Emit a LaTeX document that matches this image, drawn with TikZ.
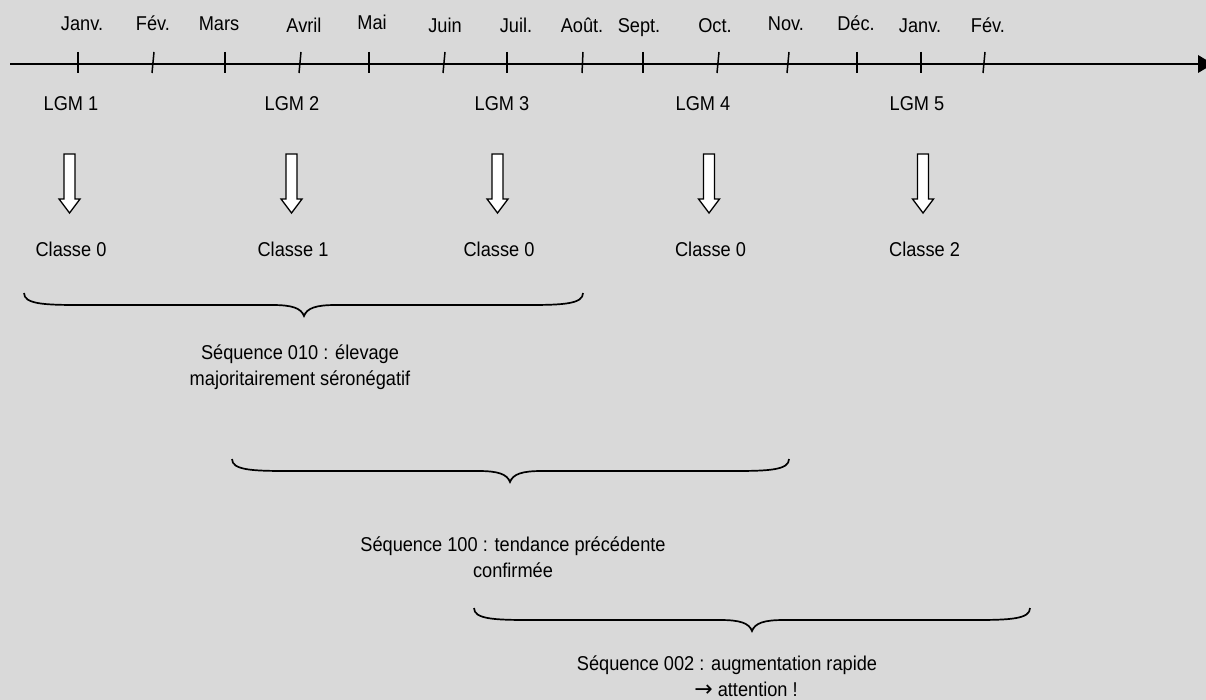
\documentclass[tikz,border=0pt]{standalone}
\usepackage{fontspec}
\setmainfont{Liberation Sans}[FakeStretch=0.91]
\newfontfamily\symfont{DejaVu Sans}
\definecolor{bggray}{HTML}{D9D9D9}
\newcommand\seqbrace[4]{%
  \draw[bracestyle] (#1,#4) .. controls (#1,#4+11) and (#1+20,#4+12) .. (#1+55,#4+12)
    -- (#2-32,#4+12) .. controls (#2-12,#4+12) and (#2-3,#4+15) .. (#2,#4+23)
    .. controls (#2+3,#4+15) and (#2+12,#4+12) .. (#2+32,#4+12)
    -- (#3-55,#4+12) .. controls (#3-20,#4+12) and (#3,#4+11) .. (#3,#4);}
\begin{document}
\begin{tikzpicture}[x=1pt,y=-1pt,
  lbl/.style={font=\fontsize{20}{26}\selectfont, inner sep=0pt, anchor=base},
  axisline/.style={line width=1.5pt},
  tickline/.style={line width=1.5pt},
  bracestyle/.style={line width=1.7pt},
  blockarrow/.style={draw=black, fill=white, line width=1.3pt, line join=miter}]
\fill[bggray] (0,0) rectangle (1206,700);
\useasboundingbox (0,0) rectangle (1206,700);
\clip (0,0) rectangle (1206,700);
% axis
\coordinate (axstart) at (10,64);
\coordinate (axend) at (1199,64);
\draw[axisline] (axstart) -- (axend);
\fill (1198,55) -- (1213,64) -- (1198,73) -- cycle;
% ticks: top x / bottom x
\foreach \tx/\bx [count=\i] in {78/78,154/152,225/225,301/299,369/369,445/443,507/507,583/582,643/643,719/717,789/787,857/857,921/921,985/983}{
  \coordinate (t\i top) at (\tx,52);
  \coordinate (t\i bot) at (\bx,73);
  \draw[tickline] (t\i top) -- (t\i bot);
}
% month labels
\foreach \m/\x/\y [count=\i] in {Janv./82/31,Fév./153/31,Mars/219/31,Avril/304/33,Mai/372/30,Juin/445/33,Juil./516/33,Août./582/33,Sept./639/33,Oct./715/33,Nov./786/31,Déc./856/31,Janv./920/33,Fév./988/33}{
  \node[lbl] (m\i) at (\x,\y) {\m};
}
% LGM labels, block arrows, classes
\foreach \x/\lx/\c [count=\i] in {69.5/71/0,291.5/292/1,497.5/502/0,709/703/0,923/917/2}{
  \node[lbl] (lgm\i) at (\lx,111) {LGM \i};
  \draw[blockarrow] (\x-5.5,154) -- (\x+5.5,154) -- (\x+5.5,199) -- (\x+10.5,199)
     -- (\x,213) -- (\x-10.5,199) -- (\x-5.5,199) -- cycle;
  \node[lbl] (cl\i) at (\x+1.5,257) {Classe \c};
}
% braces
\seqbrace{24}{304}{583}{293}
\seqbrace{232}{510}{789}{459}
\seqbrace{474}{752}{1030}{608}
% sequence texts
\node[lbl] (s1a) at (300,359) {Séquence 010 : élevage};
\node[lbl] (s1b) at (300,385) {majoritairement séronégatif};
\node[lbl] (s2a) at (513,551) {Séquence 100 : tendance précédente};
\node[lbl] (s2b) at (513,577) {confirmée};
\node[lbl] (s3a) at (727,670) {Séquence 002 : augmentation rapide};
\node[lbl] (s3b) at (746,696) {{\symfont\fontsize{22}{26}\selectfont →} attention !};
\end{tikzpicture}
\end{document}
